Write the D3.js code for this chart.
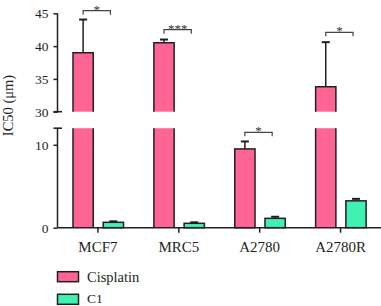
<!DOCTYPE html>
<html><head><meta charset="utf-8">
<script src="https://cdn.jsdelivr.net/npm/d3@7"></script>
<style>
html,body{margin:0;padding:0;background:#fff;}
svg{display:block;font-family:"Liberation Serif",serif;}
</style></head>
<body><svg id="c" width="381" height="306"></svg>
<script>
const categories = ["MCF7","MRC5","A2780","A2780R"];
const seriesNames = ["Cisplatin","C1"];
const cisplatin = [39.0, 40.5, 9.5, 33.8];
const cisplatinErr = [5.05, 0.5, 0.9, 6.8];
const c1 = [0.65, 0.53, 1.13, 3.24];
const c1Err = [0.12, 0.12, 0.19, 0.24];
const sigLevels = [45.4, 42.5, 11.5, 42.1];
const sigLabels = ["*","***","*","*"];
const upperTicks = [30,35,40,45];
const lowerTicks = [0,10];

const colors = {"Cisplatin":"#fe6595","C1":"#3ff2b2"};
const ink = "#231f20";
const FONT = "Liberation Serif";
const svg = d3.select("#c");

const x = d3.scaleBand().domain(categories).range([57.5,381]).padding(0);
const x1 = d3.scaleBand().domain(seriesNames).range([15.5,66]).paddingInner(0.33).paddingOuter(0);
const yU = d3.scaleLinear().domain([30,45]).range([111.7,13.3]);
const yL = d3.scaleLinear().domain([0,12]).range([227.7,128.2]);
const breakLo = 12, breakHi = 30;

// axes
const axU = d3.axisLeft(yU).tickValues(upperTicks.filter(t=>t!==breakHi)).tickSize(4).tickSizeOuter(0);
const axU30 = d3.axisLeft(yU).tickValues([breakHi]).tickSize(4).tickSizeOuter(0);
const axL = d3.axisLeft(yL).tickValues(lowerTicks).tickSize(4).tickSizeOuter(0);
function styleAxis(g){
  g.select(".domain").remove();
  g.selectAll(".tick line").attr("stroke",ink).attr("stroke-width",1.5);
  g.selectAll(".tick text").attr("fill",ink).attr("font-size",13.5).attr("font-family",FONT).attr("x",-9);
}
const x0 = x.range()[0];
svg.append("g").attr("transform",`translate(${x0},0)`).call(axU).call(styleAxis);
svg.append("g").attr("transform",`translate(${x0},0)`).call(axU30).call(styleAxis);
svg.append("g").attr("transform",`translate(${x0},0)`).call(axL).call(styleAxis);
// domain lines
svg.append("line").attr("x1",x0).attr("x2",x0).attr("y1",yU(45)).attr("y2",yU(breakHi)).attr("stroke",ink).attr("stroke-width",1.5);
svg.append("line").attr("x1",x0).attr("x2",x0).attr("y1",yL(breakLo)).attr("y2",yL(0)).attr("stroke",ink).attr("stroke-width",1.5);
// break marks
[yU(breakHi), yL(breakLo)].forEach(yy=>{
  svg.append("line").attr("x1",x0-4).attr("x2",x0+4.5).attr("y1",yy).attr("y2",yy).attr("stroke",ink).attr("stroke-width",1.6);
});

// bars
function drawBar(cx, w, v, color){
  const xl = cx, xr = cx + w;
  if (v <= breakLo){
    svg.append("rect").attr("x",xl).attr("y",yL(v)).attr("width",w).attr("height",yL(0)-yL(v))
      .attr("fill",color).attr("stroke",ink).attr("stroke-width",1.5);
  } else {
    svg.append("rect").attr("x",xl).attr("y",yL(breakLo)).attr("width",w).attr("height",yL(0)-yL(breakLo)).attr("fill",color);
    svg.append("rect").attr("x",xl).attr("y",yU(v)).attr("width",w).attr("height",yU(breakHi)-yU(v)).attr("fill",color);
    const p1 = d3.path(); p1.moveTo(xl,yL(breakLo)); p1.lineTo(xl,yL(0)); p1.moveTo(xr,yL(breakLo)); p1.lineTo(xr,yL(0));
    svg.append("path").attr("d",p1.toString()).attr("stroke",ink).attr("stroke-width",1.5).attr("fill","none");
    const p2 = d3.path(); p2.moveTo(xl,yU(breakHi)); p2.lineTo(xl,yU(v)); p2.lineTo(xr,yU(v)); p2.lineTo(xr,yU(breakHi));
    svg.append("path").attr("d",p2.toString()).attr("stroke",ink).attr("stroke-width",1.5).attr("fill","none");
  }
}
function yAny(v){ return v > breakLo ? yU(v) : yL(v); }
function drawErr(cx, v, e){
  const top = yAny(v+e), base = yAny(v);
  svg.append("line").attr("x1",cx).attr("x2",cx).attr("y1",base).attr("y2",top).attr("stroke",ink).attr("stroke-width",1.5);
  svg.append("line").attr("x1",cx-4).attr("x2",cx+4).attr("y1",top).attr("y2",top).attr("stroke",ink).attr("stroke-width",2);
}
const series = {"Cisplatin":[cisplatin,cisplatinErr],"C1":[c1,c1Err]};
categories.forEach((c,i)=>{
  seriesNames.forEach(s=>{
    const bx = x(c)+x1(s), w = x1.bandwidth();
    const [vals, errs] = series[s];
    drawErr(bx+w/2, vals[i], errs[i]);
    drawBar(bx, w, vals[i], colors[s]);
  });
});

// x axis
const yBase = yL(0);
svg.append("line").attr("x1",x0).attr("x2",381).attr("y1",yBase).attr("y2",yBase).attr("stroke",ink).attr("stroke-width",1.5);
const axX = d3.axisBottom(x).tickSize(5).tickSizeOuter(0);
const gx = svg.append("g").attr("transform",`translate(0,${yBase})`).call(axX);
gx.select(".domain").remove();
gx.selectAll(".tick line").attr("stroke",ink).attr("stroke-width",1.5);
gx.selectAll(".tick text").attr("fill",ink).attr("font-size",15).attr("font-family",FONT).attr("y",14);

// significance brackets
categories.forEach((c,i)=>{
  const a = x(c)+x1("Cisplatin")+x1.bandwidth()/2;
  const b = a + 27.3;
  const yy = yAny(sigLevels[i]);
  const p = d3.path(); p.moveTo(a,yy+4); p.lineTo(a,yy); p.lineTo(b,yy); p.lineTo(b,yy+4);
  svg.append("path").attr("d",p.toString()).attr("stroke","#444").attr("stroke-width",1.2).attr("fill","none");
  svg.append("text").attr("x",(a+b)/2).attr("y",yy+3).attr("text-anchor","middle")
    .attr("font-size",13).attr("fill","#333").attr("font-family",FONT).text(sigLabels[i]);
});

// y label
svg.append("text").attr("transform","translate(13,105.5) rotate(-90)").attr("text-anchor","middle")
  .attr("font-size",14.5).attr("font-family",FONT).attr("fill",ink).text("IC50 (μm)");

// legend
seriesNames.forEach((s,i)=>{
  const ly = 271.7 + i*22.6;
  svg.append("rect").attr("x",57.5).attr("y",ly).attr("width",21).attr("height",10)
    .attr("fill",colors[s]).attr("stroke",ink).attr("stroke-width",1.5);
  svg.append("text").attr("x",87).attr("y",ly+(i===1?8.6:10.3)).attr("font-size",i===1?13.5:14.5)
    .attr("font-family",FONT).attr("fill",ink).text(s);
});
</script></body></html>
